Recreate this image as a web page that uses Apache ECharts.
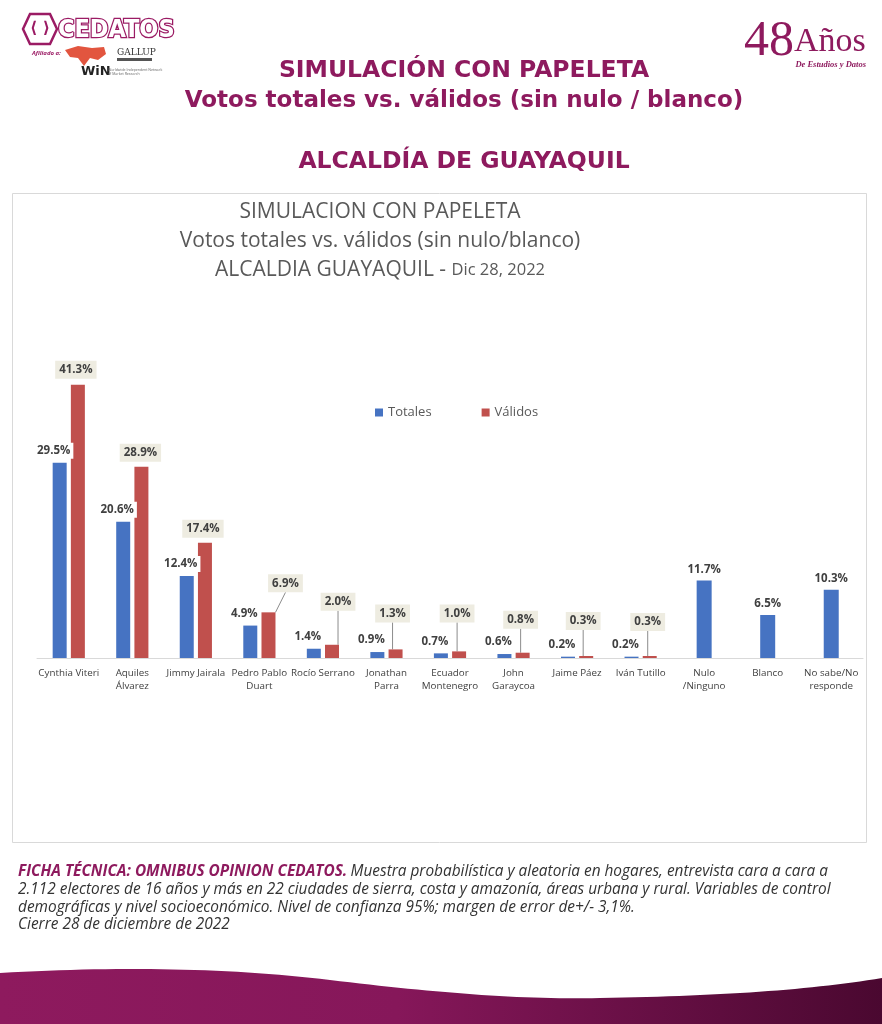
<!DOCTYPE html>
<html><head><meta charset="utf-8">
<script src="https://cdn.jsdelivr.net/npm/echarts@6/dist/echarts.min.js"></script>
<style>html,body{margin:0;padding:0;background:#fff}#c{width:882px;height:1024px}</style>
</head><body><div id="c"></div><script>
// ---- data ----
const categories = ['Cynthia Viteri','Aquiles\nÁlvarez','Jimmy Jairala','Pedro Pablo\nDuart','Rocío Serrano','Jonathan\nParra','Ecuador\nMontenegro','John\nGaraycoa','Jaime Páez','Iván Tutillo','Nulo\n/Ninguno','Blanco','No sabe/No\nresponde'];
const totales = [29.5,20.6,12.4,4.9,1.4,0.9,0.7,0.6,0.2,0.2,null,null,null];
const validos = [41.3,28.9,17.4,6.9,2.0,1.3,1.0,0.8,0.3,0.3,null,null,null];
const totalesSinCandidato = [null,null,null,null,null,null,null,null,null,null,11.7,6.5,10.3];
const seriesNames = ['Totales','Válidos'];

// ---- layout/style ----
const BLUE = '#4673C2', RED = '#C0504D', PURPLE = '#8E1A5E';
const validosShift = [[-2,-1],[-1,0],[-2,0],[17,-15],[6,-29],[-3,-22],[-2,-24],[-2,-19],[-3,-21],[-2,-20]];
const pct = p => p.value.toFixed(1) + '%';

// decorative footer wave outline (cubic bezier segments)
function bez(p0,p1,p2,p3,n){const out=[];for(let i=0;i<=n;i++){const t=i/n,u=1-t;out.push([u*u*u*p0[0]+3*u*u*t*p1[0]+3*u*t*t*p2[0]+t*t*t*p3[0],u*u*u*p0[1]+3*u*u*t*p1[1]+3*u*t*t*p2[1]+t*t*t*p3[1]]);}return out;}
const wave = [].concat(
  bez([0,973],[120,966],[230,968],[330,980],30),
  bez([330,980],[430,992],[520,1000],[600,998],30),
  bez([600,998],[720,996],[810,990],[882,978],30),
  [[882,1024],[0,1024]]
);

const chart = echarts.init(document.getElementById('c'), null, {renderer:'canvas'});
const lblBase = {fontFamily:'Open Sans', fontWeight:'bold', fontSize:11.5, color:'#404040'};
const FOOT = 'italic 15.4px "Open Sans"';

chart.setOption({
  animation:false,
  backgroundColor:'#fff',
  grid:{left:37, right:19, top:261, bottom:366, containLabel:false},
  legend:{
    data:seriesNames, left:370, top:401, icon:'rect', itemWidth:8, itemHeight:8, itemGap:50,
    textStyle:{color:'#595959', fontSize:13, fontFamily:'Open Sans'}
  },
  xAxis:[
    {type:'category', data:categories, axisTick:{show:false},
     axisLine:{lineStyle:{color:'#d9d9d9'}},
     axisLabel:{interval:0, color:'#404040', fontSize:9.8, fontFamily:'Open Sans', lineHeight:13, margin:9}},
    {type:'category', data:categories, show:false}
  ],
  yAxis:{type:'value', min:0, max:60, show:false, splitLine:{show:false}},
  series:[
    {name:'Totales', type:'bar', data:totales, barWidth:14, barGap:'30%', itemStyle:{color:BLUE},
     label:{show:true, position:'top', distance:4, offset:[-6,0], formatter:pct, backgroundColor:'#fff', padding:[2,3], ...lblBase}},
    {name:'Válidos', type:'bar', data:validos.map((v,i)=>({value:v, labelLine:{show:i>=3}})), barWidth:14, itemStyle:{color:RED},
     label:{show:true, position:'top', distance:5, formatter:pct, backgroundColor:'#EEECE1', padding:[3,4], ...lblBase},
     labelLine:{show:true, lineStyle:{color:'#8c8c8c', width:1}},
     labelLayout:p=>{const s=validosShift[p.dataIndex]||[0,0]; return {dx:s[0], dy:s[1]};}},
    {name:'Totales', type:'bar', xAxisIndex:1, data:totalesSinCandidato, barWidth:15, itemStyle:{color:BLUE},
     label:{show:true, position:'top', distance:5, formatter:pct, ...lblBase}}
  ],
  graphic:[
    // chart frame
    {type:'rect', shape:{x:12.5, y:193.5, width:854, height:649}, style:{fill:'none', stroke:'#d9d9d9', lineWidth:1}, z:-10, silent:true},
    // chart title
    {type:'text', x:380, y:212, style:{text:'SIMULACION CON PAPELETA', fill:'#595959', font:'21px "Open Sans"', align:'center', verticalAlign:'middle'}},
    {type:'text', x:380, y:241, style:{text:'Votos totales vs. válidos (sin nulo/blanco)', fill:'#595959', font:'21px "Open Sans"', align:'center', verticalAlign:'middle'}},
    {type:'text', x:380, y:270, style:{text:'{a|ALCALDIA GUAYAQUIL - }{b|Dic 28, 2022}', align:'center', verticalAlign:'middle',
      rich:{a:{fill:'#595959', font:'21px "Open Sans"'}, b:{fill:'#595959', font:'16.5px "Open Sans"'}}}},
    // page header
    {type:'text', x:464, y:71, style:{text:'SIMULACIÓN CON PAPELETA', fill:PURPLE, font:'bold 23.5px "DejaVu Sans"', align:'center', verticalAlign:'middle'}},
    {type:'text', x:464, y:101, style:{text:'Votos totales vs. válidos (sin nulo / blanco)', fill:PURPLE, font:'bold 23px "DejaVu Sans"', align:'center', verticalAlign:'middle'}},
    {type:'text', x:464, y:162, style:{text:'ALCALDÍA DE GUAYAQUIL', fill:PURPLE, font:'bold 23.5px "DejaVu Sans"', align:'center', verticalAlign:'middle'}},
    // CEDATOS logo
    {type:'polygon', shape:{points:[[30,14],[50,14],[57,29],[50,44],[30,44],[23,29]]}, style:{fill:'#fff', stroke:'#9B1B64', lineWidth:2.5}},
    {type:'text', x:40, y:29, style:{text:'⟨ ⟩', fill:'#9B1B64', font:'bold 16px "DejaVu Sans"', align:'center', verticalAlign:'middle'}},
    {type:'text', x:58, y:30, style:{text:'CEDATOS', fill:'#fff', stroke:'#9B1B64', lineWidth:2.5, font:'bold 25px "DejaVu Sans Condensed", "DejaVu Sans"', verticalAlign:'middle'}},
    {type:'text', x:32, y:53, style:{text:'Afiliado a:', fill:'#9B1B64', font:'bold italic 6px "Open Sans"', verticalAlign:'middle'}},
    {type:'polygon', shape:{points:[[65,50],[78,46],[92,48],[104,47],[106,54],[98,60],[90,58],[84,66],[78,58],[70,57]]}, style:{fill:'#E2553F'}},
    {type:'text', x:117, y:53, style:{text:'GALLUP', fill:'#333', font:'9px "DejaVu Serif"', verticalAlign:'middle'}},
    {type:'rect', shape:{x:117, y:58, width:35, height:3}, style:{fill:'#555'}},
    {type:'text', x:81, y:72, style:{text:'WiN', fill:'#222', font:'bold 13px "DejaVu Sans"', verticalAlign:'middle'}},
    {type:'text', x:108, y:72, style:{text:'Worldwide Independent Network\nof Market Research', fill:'#666', font:'3.5px "Open Sans"', verticalAlign:'middle'}},
    // 48 Años
    {type:'text', x:744, y:42, style:{text:'{a|48}{b|Años}', verticalAlign:'middle',
      rich:{a:{fill:PURPLE, font:'50px "Liberation Serif"'}, b:{fill:PURPLE, font:'34px "Liberation Serif"'}}}},
    {type:'text', x:866, y:65, style:{text:'De Estudios y Datos', fill:PURPLE, font:'bold italic 8.5px "Liberation Serif"', align:'right', verticalAlign:'middle'}},
    // footer
    {type:'text', x:18, y:872, style:{text:'{b|FICHA TÉCNICA: OMNIBUS OPINION CEDATOS.} {r|Muestra probabilística y aleatoria en hogares, entrevista cara a cara a}', verticalAlign:'middle',
      rich:{b:{fill:PURPLE, font:'bold italic 15.4px "Open Sans"'}, r:{fill:'#333', font:FOOT}}}},
    {type:'text', x:18, y:890, style:{text:'2.112 electores de 16 años y más en 22 ciudades de sierra, costa y amazonía, áreas urbana y rural. Variables de control', fill:'#333', font:FOOT, verticalAlign:'middle'}},
    {type:'text', x:18, y:908, style:{text:'demográficas y nivel socioeconómico. Nivel de confianza 95%; margen de error de+/- 3,1%.', fill:'#333', font:FOOT, verticalAlign:'middle'}},
    {type:'text', x:18, y:925, style:{text:'Cierre 28 de diciembre de 2022', fill:'#333', font:FOOT, verticalAlign:'middle'}},
    // bottom wave
    {type:'polygon', shape:{points:wave},
     style:{fill:new echarts.graphic.LinearGradient(0,0,1,0,[{offset:0,color:'#8E1A5E'},{offset:0.45,color:'#86175A'},{offset:1,color:'#4A0830'}])}, silent:true}
  ]
});
</script></body></html>
